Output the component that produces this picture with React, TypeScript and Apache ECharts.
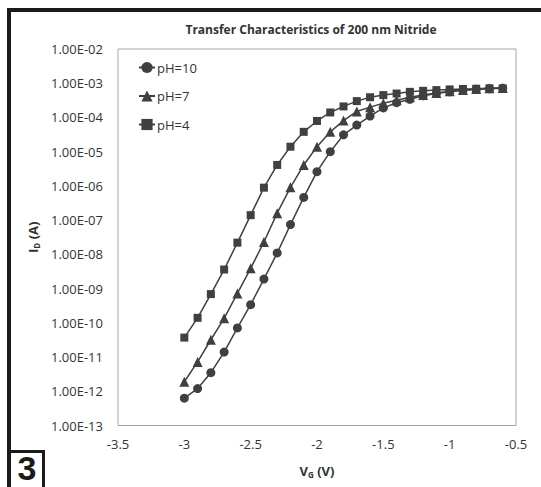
import React, { useEffect, useRef } from "react";
import * as echarts from "echarts";

const TITLE = "Transfer Characteristics of 200 nm Nitride";
const X_VALUES = [-3, -2.9, -2.8, -2.7, -2.6, -2.5, -2.4, -2.3, -2.2, -2.1, -2.0, -1.9, -1.8, -1.7, -1.6, -1.5, -1.4, -1.3, -1.2, -1.1, -1.0, -0.9, -0.8, -0.7, -0.6];
const PH10 = [6.3e-13, 1.2e-12, 3.5e-12, 1.4e-11, 7.1e-11, 3.4e-10, 1.9e-9, 1.1e-8, 7.4e-8, 4.6e-7, 2.6e-6, 1.0e-5, 3.1e-5, 6.0e-5, 1.1e-4, 1.9e-4, 2.7e-4, 3.4e-4, 4.3e-4, 5.0e-4, 5.6e-4, 6.2e-4, 6.6e-4, 6.9e-4, 7.1e-4];
const PH7 = [1.9e-12, 7.2e-12, 3.2e-11, 1.35e-10, 7.2e-10, 3.9e-9, 2.3e-8, 1.6e-7, 9.1e-7, 4.1e-6, 1.4e-5, 3.8e-5, 8.1e-5, 1.5e-4, 2.0e-4, 2.6e-4, 3.2e-4, 3.9e-4, 4.5e-4, 5.2e-4, 5.8e-4, 6.3e-4, 6.8e-4, 7.1e-4, 7.2e-4];
const PH4 = [3.7e-11, 1.4e-10, 6.9e-10, 3.6e-9, 2.2e-8, 1.4e-7, 8.9e-7, 4.1e-6, 1.4e-5, 3.8e-5, 7.9e-5, 1.4e-4, 2.1e-4, 3.0e-4, 3.9e-4, 4.5e-4, 5.0e-4, 5.6e-4, 6.0e-4, 6.3e-4, 6.6e-4, 6.8e-4, 6.9e-4, 7.1e-4, 7.1e-4];
const SERIES_NAMES = ["pH=10", "pH=7", "pH=4"];
const X_MIN = -3.5;
const X_MAX = -0.5;
const X_STEP = 0.5;
const Y_MIN = 1e-13;
const Y_MAX = 1e-2;

const FONT = "'Open Sans', sans-serif";
const DARK = "#404040";

function fmtY(v: number): string {
  const e = Math.round(Math.log10(v));
  const sign = e < 0 ? "-" : "+";
  return "1.00E" + sign + String(Math.abs(e)).padStart(2, "0");
}

export default function App() {
  const ref = useRef<HTMLDivElement>(null);
  useEffect(() => {
    document.body.style.margin = "0";
    if (!ref.current) return;
    const chart = echarts.init(ref.current, null, { renderer: "svg" });
    const mk = (vals: number[]) => X_VALUES.map((x, i) => [x, vals[i]]);
    const symbols = ["circle", "triangle", "rect"];
    const sizes = [9, 10, 8];
    const datas = [PH10, PH7, PH4];
    const nameRich = {
      m: { fontFamily: FONT, fontSize: 13, fontWeight: "bold", color: "#333333", lineHeight: 18 },
      s: { fontFamily: FONT, fontSize: 8, fontWeight: "bold", color: "#333333", lineHeight: 18, padding: [7, 0, 0, 0] },
    };
    chart.setOption({
      animation: false,
      backgroundColor: "#ffffff",
      title: {
        text: TITLE,
        left: 306,
        top: 18,
        textAlign: "center",
        textStyle: { fontFamily: FONT, fontSize: 12, fontWeight: "bold", color: "#333333" },
      },
      legend: {
        orient: "vertical",
        left: 133,
        top: 56,
        itemWidth: 16,
        itemHeight: 14,
        itemGap: 15.5,
        textStyle: { fontFamily: FONT, fontSize: 13, color: "#333333", padding: [0, 0, 0, -3] },
        data: SERIES_NAMES,
      },
      grid: { left: 118, right: 25, top: 49, bottom: 61.5, show: true, borderColor: "#a6a6a6", borderWidth: 1 },
      xAxis: {
        type: "value",
        min: X_MIN,
        max: X_MAX,
        interval: X_STEP,
        axisLine: { show: false },
        axisTick: { show: false },
        splitLine: { show: false },
        axisLabel: { fontFamily: FONT, fontSize: 13, color: "#333333", margin: 12 },
        name: "{m|V}{s|G}{m| (V)}",
        nameLocation: "middle",
        nameGap: 36,
        nameTextStyle: { rich: nameRich },
      },
      yAxis: {
        type: "log",
        logBase: 10,
        min: Y_MIN,
        max: Y_MAX,
        interval: 1,
        splitNumber: 11,
        axisLine: { show: false },
        axisTick: { show: false },
        splitLine: { show: false },
        minorTick: { show: false },
        axisLabel: { fontFamily: FONT, fontSize: 13, color: "#333333", margin: 15, formatter: fmtY },
        name: "{m|I}{s|D}{m| (A)}",
        nameLocation: "middle",
        nameGap: 75,
        nameTextStyle: { rich: nameRich },
      },
      series: SERIES_NAMES.map((name, k) => ({
        name,
        type: "line",
        data: mk(datas[k]),
        symbol: symbols[k],
        symbolSize: sizes[k],
        showSymbol: true,
        lineStyle: { color: DARK, width: 1.5 },
        itemStyle: { color: DARK, borderColor: DARK, borderWidth: 0 },
        z: 3 - k,
      })),
      graphic: [
        { type: "rect", shape: { x: 7, y: 8, width: 534, height: 4 }, style: { fill: "#1a1a1a" }, silent: true },
        { type: "rect", shape: { x: 7, y: 8, width: 4, height: 479 }, style: { fill: "#1a1a1a" }, silent: true },
        { type: "rect", shape: { x: 9.5, y: 451.5, width: 34, height: 40 }, style: { fill: "none", stroke: "#1a1a1a", lineWidth: 3 }, silent: true },
        {
          type: "text",
          x: 27,
          y: 468,
          style: { text: "3", fontFamily: "'Liberation Sans', Arial, sans-serif", fontSize: 34, fontWeight: "bold", fill: "#1a1a1a", textAlign: "center", textVerticalAlign: "middle" },
          silent: true,
        },
      ],
    });
    return () => chart.dispose();
  }, []);
  return <div ref={ref} style={{ width: 541, height: 487 }} />;
}
